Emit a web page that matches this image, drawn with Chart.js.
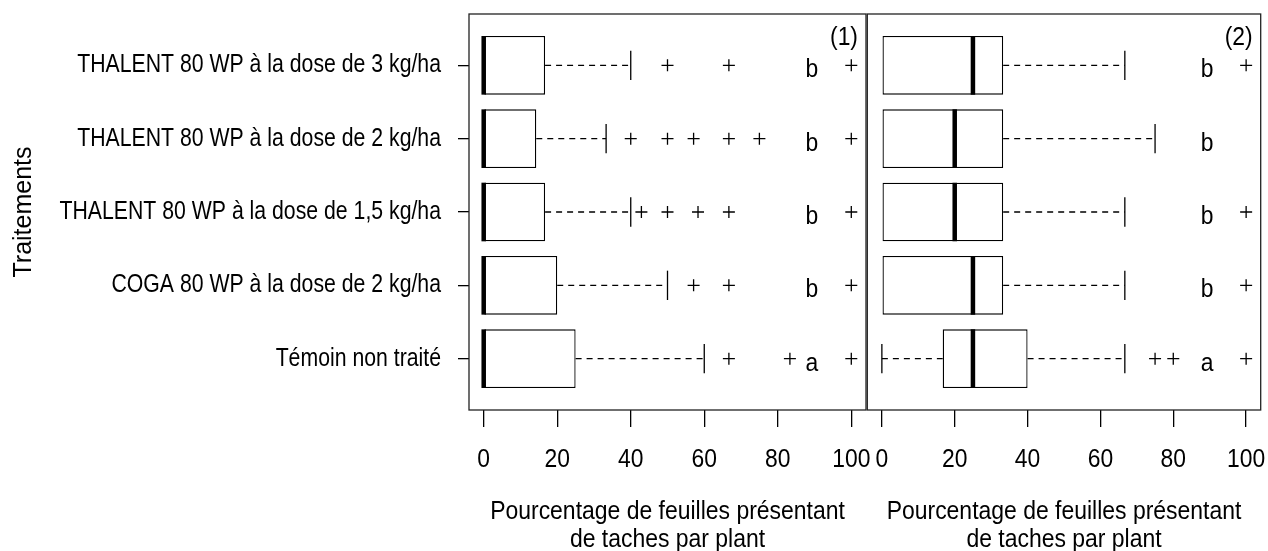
<!DOCTYPE html>
<html>
<head>
<meta charset="utf-8">
<script src="https://cdn.jsdelivr.net/npm/chart.js@4.4.1/dist/chart.umd.min.js"></script>
<style>
  html, body { margin: 0; padding: 0; background: #fff; }
  #wrap { position: relative; width: 1268px; height: 551px; overflow: hidden; background: #fff; }
  canvas { position: absolute; top: 0; }
  #c1 { left: 0; }
  #c2 { left: 860px; }
</style>
</head>
<body>
<div id="wrap">
  <canvas id="c1" width="890" height="551"></canvas>
  <canvas id="c2" width="408" height="551"></canvas>
</div>
<script>
// ---------- DATA ----------
const categories = [
  'Témoin non traité',
  'COGA 80 WP à la dose de 2 kg/ha',
  'THALENT 80 WP à la dose de 1,5 kg/ha',
  'THALENT 80 WP à la dose de 2 kg/ha',
  'THALENT 80 WP à la dose de 3 kg/ha'
];
const xTicks = [0, 20, 40, 60, 80, 100];
const xTitle = ['Pourcentage de feuilles présentant', 'de taches par plant'];
const yTitle = 'Traitements';

// Panel (1)
const p1Min = [0, 0, 0, 0, 0];
const p1Q1  = [0, 0, 0, 0, 0];
const p1Med = [0, 0, 0, 0, 0];
const p1Q3  = [25, 20, 16.7, 14.3, 16.7];
const p1Max = [60, 50, 40, 33.3, 40];
const p1Out = [
  [66.7, 83.3, 100],
  [57.1, 66.7, 100],
  [42.9, 50, 58.3, 66.7, 100],
  [40, 50, 57.1, 66.7, 75, 100],
  [50, 66.7, 100]
];
const p1Letters = ['a', 'b', 'b', 'b', 'b'];

// Panel (2)
const p2Min = [0, 0, 0, 0, 0];
const p2Q1  = [16.7, 0, 0, 0, 0];
const p2Med = [25, 25, 20, 20, 25];
const p2Q3  = [40, 33.3, 33.3, 33.3, 33.3];
const p2Max = [66.7, 66.7, 66.7, 75, 66.7];
const p2Out = [
  [75, 80, 100],
  [100],
  [100],
  [],
  [100]
];
const p2Letters = ['a', 'b', 'b', 'b', 'b'];

// ---------- TEXT WIDTH (narrow rendering like the reference) ----------
const K = { 25: 0.85, 26: 0.88, 25.5: 0.9 };
function patchCtx(canvas) {
  const ctx = canvas.getContext('2d');
  const orig = ctx.fillText;
  ctx.fillText = function (t, x, y, mw) {
    const m = this.getTransform();
    const mm = /([\d.]+)px/.exec(this.font);
    const k = mm ? K[parseFloat(mm[1])] : undefined;
    if (!k || Math.abs(m.b) > 1e-6) {
      return mw === undefined ? orig.call(this, t, x, y) : orig.call(this, t, x, y, mw);
    }
    this.save();
    this.translate(x, y);
    this.scale(k, 1);
    if (mw === undefined) orig.call(this, t, 0, 0); else orig.call(this, t, 0, 0, mw / k);
    this.restore();
  };
  return ctx;
}

const FAMILY = "'Liberation Sans', Arial, sans-serif";
Chart.defaults.font.family = FAMILY;
Chart.defaults.color = '#000';

// ---------- PLUGIN: whiskers, staples, medians, letters, frame ----------
const boxExtras = {
  id: 'boxExtras',
  afterDatasetsDraw(chart, args, o) {
    const { ctx, chartArea: ca, scales: { x, y } } = chart;
    ctx.save();
    ctx.beginPath();
    ctx.rect(ca.left, ca.top, ca.width, ca.height);
    ctx.clip();
    ctx.strokeStyle = '#000';
    for (let i = 0; i < o.min.length; i++) {
      const v = i + 1;
      const yc = y.getPixelForValue(v);
      const ySt = y.getPixelForValue(v + 0.2), ySb = y.getPixelForValue(v - 0.2);
      const yBt = y.getPixelForValue(v + 0.4), yBb = y.getPixelForValue(v - 0.4);
      ctx.lineWidth = 1.3;
      ctx.setLineDash([6, 5]);
      ctx.beginPath();
      ctx.moveTo(x.getPixelForValue(o.q3[i]), yc); ctx.lineTo(x.getPixelForValue(o.max[i]), yc);
      if (o.q1[i] > o.min[i]) { ctx.moveTo(x.getPixelForValue(o.min[i]), yc); ctx.lineTo(x.getPixelForValue(o.q1[i]), yc); }
      ctx.stroke();
      ctx.setLineDash([]);
      ctx.beginPath();
      const xm = x.getPixelForValue(o.max[i]), xn = x.getPixelForValue(o.min[i]);
      ctx.moveTo(xm, ySt); ctx.lineTo(xm, ySb);
      if (o.q1[i] > o.min[i]) { ctx.moveTo(xn, ySt); ctx.lineTo(xn, ySb); }
      ctx.stroke();
      ctx.lineWidth = 4.5;
      ctx.beginPath();
      const xmed = x.getPixelForValue(o.med[i]);
      ctx.moveTo(xmed, yBt); ctx.lineTo(xmed, yBb);
      ctx.stroke();
    }
    ctx.restore();
    // letters
    ctx.save();
    ctx.fillStyle = '#000';
    ctx.font = '26px ' + FAMILY;
    ctx.textAlign = 'center';
    ctx.textBaseline = 'alphabetic';
    for (let i = 0; i < o.letters.length; i++) {
      ctx.fillText(o.letters[i], x.getPixelForValue(o.letterAt), y.getPixelForValue(i + 1) + 12);
    }
    ctx.textBaseline = 'middle';
    ctx.fillText(o.tag, ca.right - 22, ca.top + 24);
    ctx.restore();
  },
  afterDraw(chart) {
    const { ctx, chartArea: ca } = chart;
    ctx.save();
    ctx.strokeStyle = '#222';
    ctx.lineWidth = 1.3;
    ctx.strokeRect(ca.left, ca.top, ca.width, ca.height);
    ctx.restore();
  }
};

function outlierPoints(out) {
  const pts = [];
  out.forEach((row, i) => row.forEach(v => pts.push({ x: v, y: i + 1 })));
  return pts;
}

function makeChart(canvas, d, withLabels, padding) {
  const ctx = patchCtx(canvas);
  return new Chart(ctx, {
    type: 'scatter',
    data: {
      datasets: [
        {
          type: 'bar',
          indexAxis: 'y',
          data: d.q1.map((q, i) => ({ y: i + 1, x: [q, d.q3[i]] })),
          backgroundColor: '#fff',
          borderColor: '#000',
          borderWidth: 1.3,
          borderSkipped: false,
          categoryPercentage: 0.8,
          barPercentage: 1.0,
          order: 2
        },
        {
          type: 'scatter',
          data: outlierPoints(d.out),
          pointStyle: 'cross',
          pointRadius: 6,
          borderColor: '#000',
          backgroundColor: 'rgba(0,0,0,0)',
          borderWidth: 1.3,
          order: 1
        }
      ]
    },
    options: {
      responsive: false,
      animation: false,
      events: [],
      layout: { padding: padding },
      plugins: {
        legend: { display: false },
        tooltip: { enabled: false },
        boxExtras: { min: d.min, q1: d.q1, med: d.med, q3: d.q3, max: d.max, letters: d.letters, letterAt: 89.3, tag: d.tag }
      },
      scales: {
        x: {
          type: 'linear',
          position: 'bottom',
          offset: false,
          min: -4, max: 104,
          afterBuildTicks: s => { s.ticks = xTicks.map(v => ({ value: v })); },
          afterFit: s => { s.height = 141; s.paddingLeft = 0; s.paddingRight = 0; s.paddingTop = 0; s.paddingBottom = 0; },
          grid: { display: true, offset: false, drawOnChartArea: false, drawTicks: true, tickLength: 17, color: '#000', lineWidth: 1.3 },
          border: { display: false },
          ticks: { autoSkip: false, maxRotation: 0, padding: 19, color: '#000', font: { size: 26, lineHeight: 1.08 } },
          title: { display: true, text: xTitle, color: '#000', font: { size: 25.5, lineHeight: 1.06 }, padding: { top: 0, bottom: -2 } }
        },
        y: {
          type: 'linear',
          position: 'left',
          offset: false,
          min: 0.3, max: 5.7,
          afterBuildTicks: s => { s.ticks = categories.map((c, i) => ({ value: i + 1 })); },
          afterFit: s => { s.width = withLabels ? 469 : 6; s.paddingLeft = 0; s.paddingRight = 0; s.paddingTop = 0; s.paddingBottom = 0; },
          grid: withLabels
            ? { display: true, offset: false, drawOnChartArea: false, drawTicks: true, tickLength: 11, color: '#000', lineWidth: 1.3 }
            : { display: false, offset: false },
          border: { display: false },
          ticks: {
            display: withLabels,
            autoSkip: false,
            padding: 17,
            color: '#000',
            font: { size: 25, lineHeight: 1.08 },
            callback: v => categories[Math.round(v) - 1]
          },
          title: { display: withLabels, text: yTitle, color: '#000', font: { size: 25, lineHeight: 1.08 }, padding: { top: 10.5, bottom: 0 } }
        }
      }
    },
    plugins: [boxExtras]
  });
}

makeChart(document.getElementById('c1'),
  { min: p1Min, q1: p1Q1, med: p1Med, q3: p1Q3, max: p1Max, out: p1Out, letters: p1Letters, tag: '(1)' },
  true, { top: 14, right: 24, bottom: 0, left: 0 });
makeChart(document.getElementById('c2'),
  { min: p2Min, q1: p2Q1, med: p2Med, q3: p2Q3, max: p2Max, out: p2Out, letters: p2Letters, tag: '(2)' },
  false, { top: 14, right: 7, bottom: 0, left: 0 });
</script>
</body>
</html>
